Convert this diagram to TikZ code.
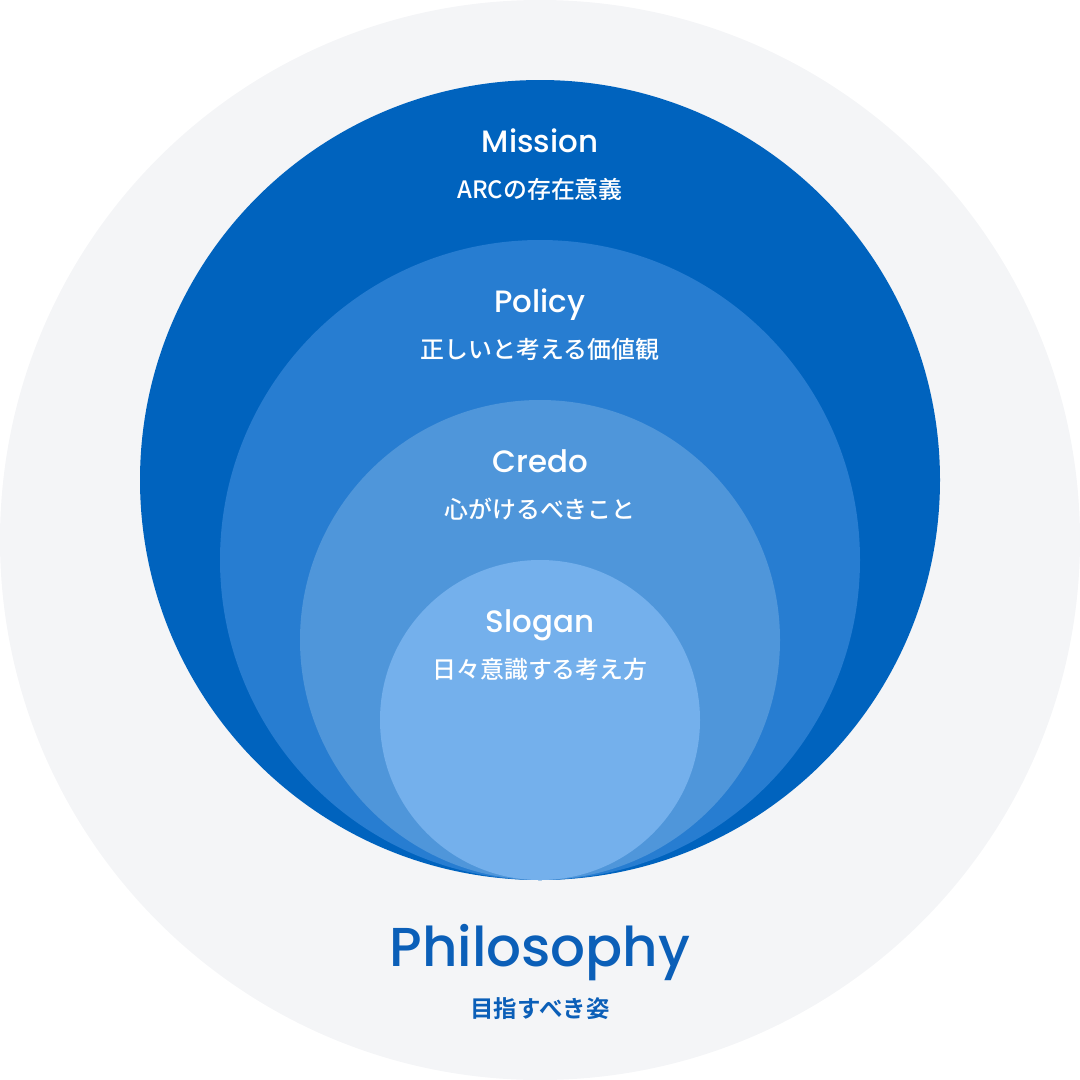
\documentclass[tikz,border=0pt]{standalone}
\usepackage{fontspec}
\IfFontExistsTF{Poppins Medium}{\setmainfont{Poppins Medium}}{\setmainfont{Poppins}[FakeBold=0.6]}
\IfFontExistsTF{Noto Sans CJK JP Medium}{\newfontfamily\jp{Noto Sans CJK JP Medium}}{\newfontfamily\jp{Noto Sans CJK JP}}
\newfontfamily\jpb{Noto Sans CJK JP Bold}
\definecolor{bgray}{HTML}{F4F5F7}
\definecolor{cmission}{HTML}{0063BE}
\definecolor{cpolicy}{HTML}{277DD1}
\definecolor{ccredo}{HTML}{4F96DA}
\definecolor{cslogan}{HTML}{74B0EC}
\definecolor{philo}{HTML}{0B5FB8}
\tikzset{
  title/.style={text=white, font=\fontsize{31}{31}\selectfont, anchor=base, inner sep=0},
  sub/.style={text=white, font=\jp\fontsize{24}{24}\selectfont, anchor=base, inner sep=0},
}
\begin{document}
\begin{tikzpicture}[x=1bp,y=-1bp]
\useasboundingbox (0,0) rectangle (1080,1080);
\fill[bgray] (540,540) circle[radius=540];
\fill[cmission] (540,480) circle[radius=400];
\fill[cpolicy] (540,560) circle[radius=320];
\fill[ccredo] (540,640) circle[radius=240];
\fill[cslogan] (540,720) circle[radius=160];
\node[title] (mission) at (540,152) {Mission};
\node[sub] (missionsub) at (540,198) {ARCの存在意義};
\node[title] (policy) at (540,312) {Policy};
\node[sub] (policysub) at (540,358) {正しいと考える価値観};
\node[title] (credo) at (540,472) {Credo};
\node[sub] (credosub) at (540,518) {心がけるべきこと};
\node[title] (slogan) at (540,632) {Slogan};
\node[sub] (slogansub) at (540,678) {日々意識する考え方};
\node[text=philo, font=\fontsize{55}{55}\selectfont, anchor=base, inner sep=0] (philosophy) at (540,966) {Philosophy};
\node[text=philo, font=\jpb\fontsize{23.5}{23.5}\selectfont, anchor=base, inner sep=0] (philosub) at (540,1017) {目指すべき姿};
\end{tikzpicture}
\end{document}
